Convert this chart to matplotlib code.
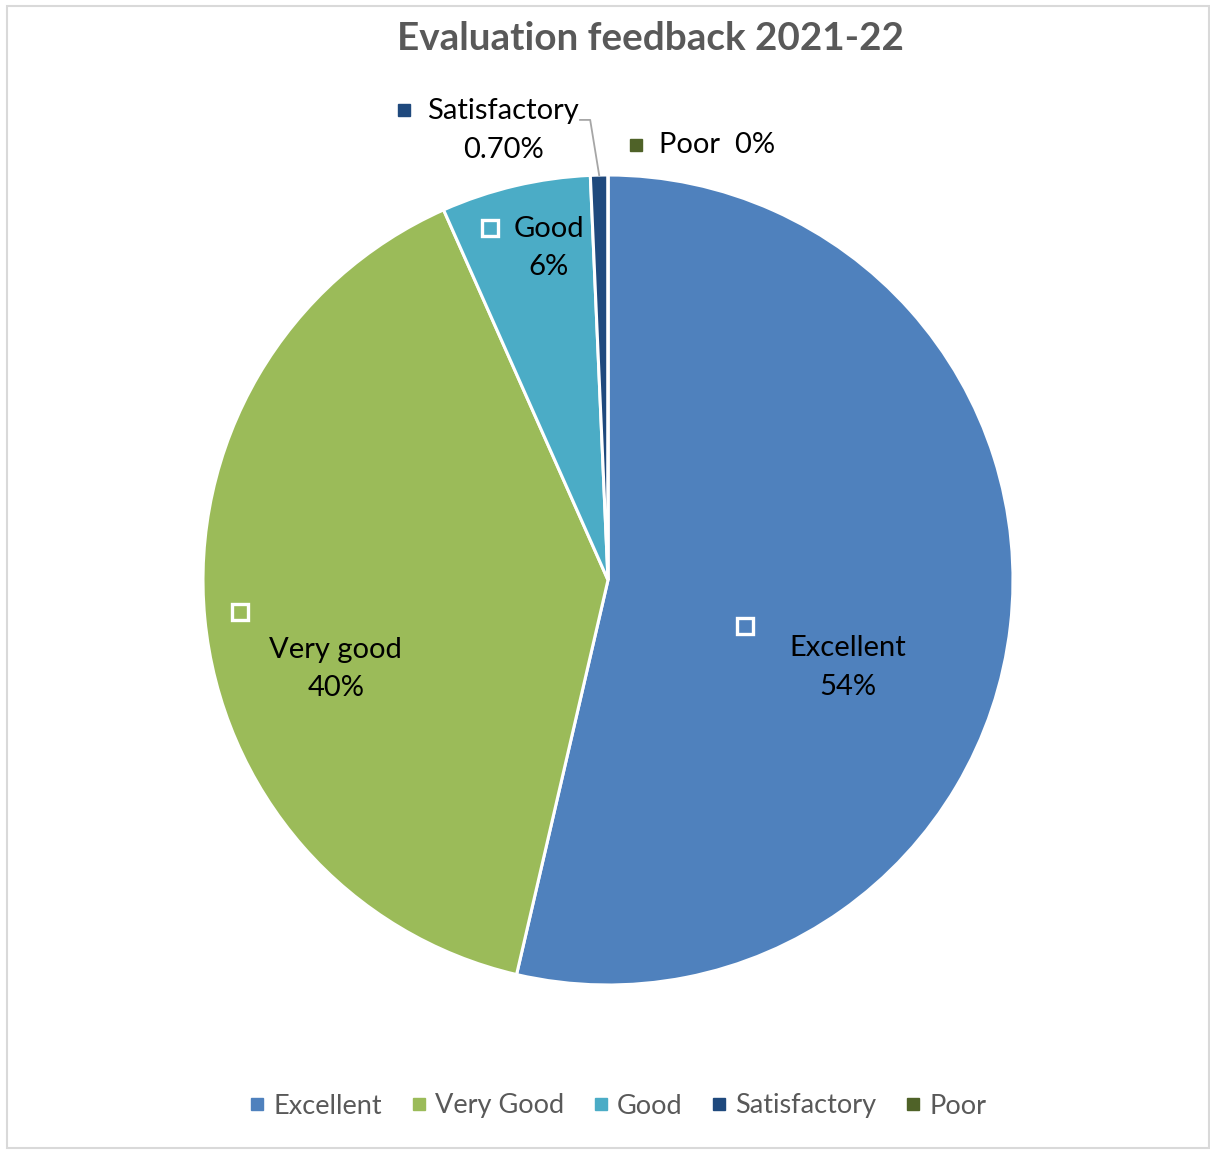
import matplotlib
matplotlib.use("Agg")
import matplotlib.pyplot as plt
import numpy as np
from matplotlib.lines import Line2D
from matplotlib.patches import Rectangle

plt.rcParams['font.family'] = ['Lato', 'DejaVu Sans']

# data
categories = ['Excellent', 'Very Good', 'Good', 'Satisfactory', 'Poor']
values = [54, 40, 6, 0.7, 0]
slice_labels = ['Excellent\n54%', 'Very good\n40%', 'Good\n6%', 'Satisfactory\n0.70%', 'Poor  0%']
colors = ['#4F81BD', '#9BBB59', '#4BACC6', '#1F497D', '#4F6228']

W, H = 1210, 1151
fig = plt.figure(figsize=(W / 100, H / 100), dpi=100)

# axes placed so that the pie centre/radius match the reference
cx, cy, R, a = 608, 580, 405, 1.4
ax = fig.add_axes([(cx - R * a) / W, (H - (cy + R * a)) / H, 2 * R * a / W, 2 * R * a / H])

wedges, _ = ax.pie(values, colors=colors, startangle=90, counterclock=False, radius=1,
                   wedgeprops=dict(edgecolor='white', linewidth=2.2))
ax.set_xlim(-a, a)
ax.set_ylim(-a, a)
ax.axis('off')

# label positions (text centre, marker) in pie data units
text_pos = [(0.593, -0.216), (-0.672, -0.219), (-0.146, 0.819), (-0.259, 1.110), (0.269, 1.074)]
mark_pos = [(0.338, -0.114), (-0.909, -0.079), (-0.291, 0.869), (-0.504, 1.160), (0.069, 1.074)]

for i in range(len(categories)):
    tx, ty = text_pos[i]
    ax.text(tx, ty, slice_labels[i], ha='center', va='center', fontsize=21,
            color='black', linespacing=1.58)
    mx, my = mark_pos[i]
    if i < 3:
        ax.plot(mx, my, marker='s', markersize=11, markerfacecolor=colors[i],
                markeredgecolor='white', markeredgewidth=2.4, linestyle='none')
    else:
        ax.plot(mx, my, marker='s', markersize=9, markerfacecolor=colors[i],
                markeredgecolor=colors[i], linestyle='none')

# leader line for the tiny Satisfactory slice
w = wedges[3]
mid = np.deg2rad((w.theta1 + w.theta2) / 2)
ex, ey = np.cos(mid), np.sin(mid)
ax.plot([-0.069, -0.044, ex], [1.136, 1.136, ey], color='#A6A6A6', linewidth=1.3)

# title
fig.text(650 / W, 1 - 39 / H, 'Evaluation feedback 2021-22', ha='center', va='center',
         fontsize=27.8, fontweight='bold', color='#595959')

# legend
handles = [Line2D([], [], marker='s', linestyle='none', markersize=9,
                  markerfacecolor=c, markeredgecolor=c) for c in colors]
fig.legend(handles, categories, loc='center', bbox_to_anchor=(615 / W, 1 - 1106 / H), ncol=5,
           frameon=False, fontsize=19.5, labelcolor='#595959', handletextpad=0.1,
           columnspacing=0.85, handlelength=1.0)

# chart border
fig.patches.append(Rectangle((7 / W, 1 - 1148 / H), 1202 / W, 1142 / H, transform=fig.transFigure,
                             fill=False, edgecolor='#D9D9D9', linewidth=1.5))

fig.savefig('out.png', dpi=100)
